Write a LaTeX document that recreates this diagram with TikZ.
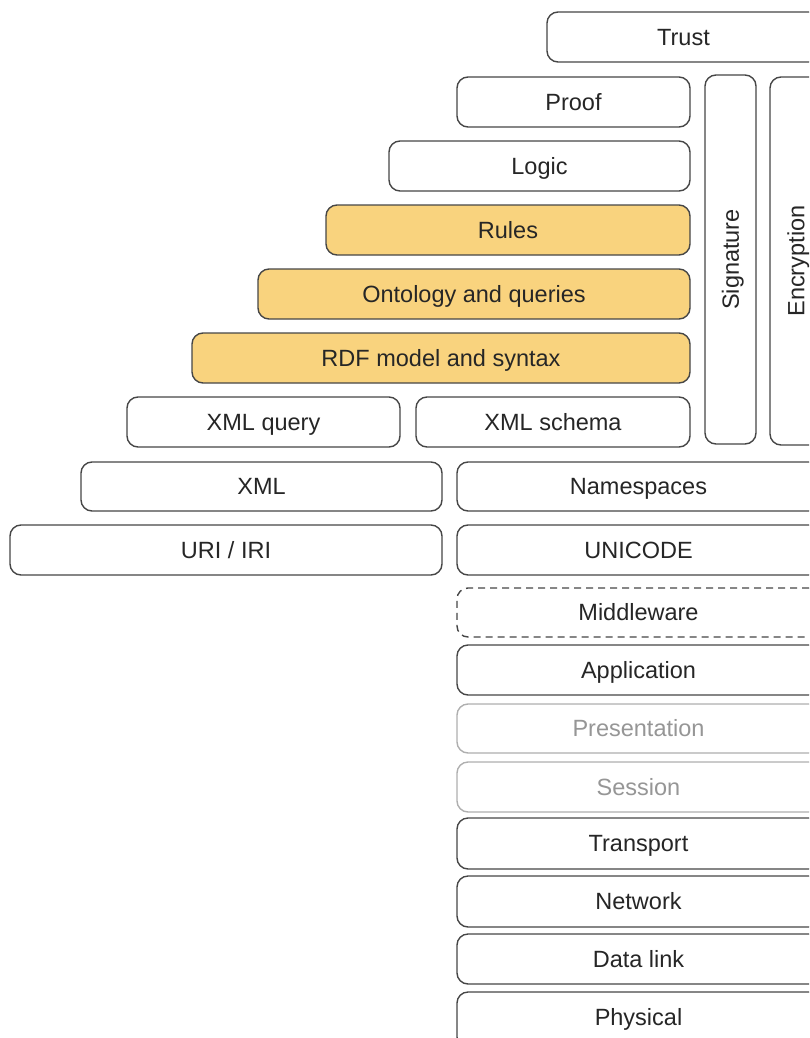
\documentclass[tikz,border=0pt]{standalone}
\usepackage{fontspec}
\setmainfont{Liberation Sans}
\definecolor{edge}{RGB}{70,70,70}
\definecolor{faint}{RGB}{150,150,150}
\definecolor{faintedge}{RGB}{175,175,175}
\definecolor{semfill}{RGB}{249,211,126}
\begin{document}
\begin{tikzpicture}[x=1pt,y=-1pt,
  layer/.style={draw=edge, line width=1.4pt, rounded corners=11pt, fill=white,
    minimum height=50pt, inner sep=0pt, text height=19.8pt, text depth=3pt,
    font=\fontsize{23.5}{26}\selectfont, text=black!85},
  sem/.style={layer, fill=semfill},
  dimmed/.style={layer, draw=faintedge, text=faint},
  future/.style={layer, dashed, dash pattern=on 7pt off 5pt},
  side/.style={layer, rotate=90}]
\useasboundingbox (0,0) rectangle (809,1038);
\clip (0,0) rectangle (809,1038);

% semantic web stack
\node[layer, minimum width=273pt] (trust) at (683.5,37) {Trust};
\node[layer, minimum width=233pt] (proof) at (573.5,102) {Proof};
\node[layer, minimum width=301pt] (logic) at (539.5,166) {Logic};
\node[sem, minimum width=364pt] (rules) at (508,230) {Rules};
\node[sem, minimum width=432pt] (onto) at (474,294) {Ontology and queries};
\node[sem, minimum width=498pt] (rdf) at (441,358) {RDF model and syntax};
\node[layer, minimum width=273pt] (xquery) at (263.5,422) {XML query};
\node[layer, minimum width=274pt] (xschema) at (553,422) {XML schema};
\node[layer, minimum width=361pt, minimum height=49pt] (xml) at (261.5,486.5) {XML};
\node[layer, minimum width=363pt, minimum height=49pt] (ns) at (638.5,486.5) {Namespaces};
\node[layer, minimum width=432pt] (uri) at (226,550) {URI / IRI};
\node[layer, minimum width=363pt] (unicode) at (638.5,550) {UNICODE};

% vertical security columns
\node[side, minimum width=369pt, minimum height=51pt] (sig) at (730.5,259.5) {Signature};
\node[side, minimum width=368pt, minimum height=52pt] (enc) at (796,261) {Encryption};

% network layers
\node[future, minimum width=363pt, minimum height=49pt] (mid) at (638.5,612.5) {Middleware};
\node[layer, minimum width=363pt] (app) at (638.5,670) {Application};
\node[dimmed, minimum width=363pt, minimum height=49pt] (pres) at (638.5,728.5) {Presentation};
\node[dimmed, minimum width=363pt] (sess) at (638.5,787) {Session};
\node[layer, minimum width=363pt, minimum height=51pt] (trans) at (638.5,843.5) {Transport};
\node[layer, minimum width=363pt, minimum height=51pt] (net) at (638.5,901.5) {Network};
\node[layer, minimum width=363pt] (link) at (638.5,959) {Data link};
\node[layer, minimum width=363pt, minimum height=56pt, text depth=9pt] (phys) at (638.5,1020) {Physical};
\end{tikzpicture}
\end{document}
